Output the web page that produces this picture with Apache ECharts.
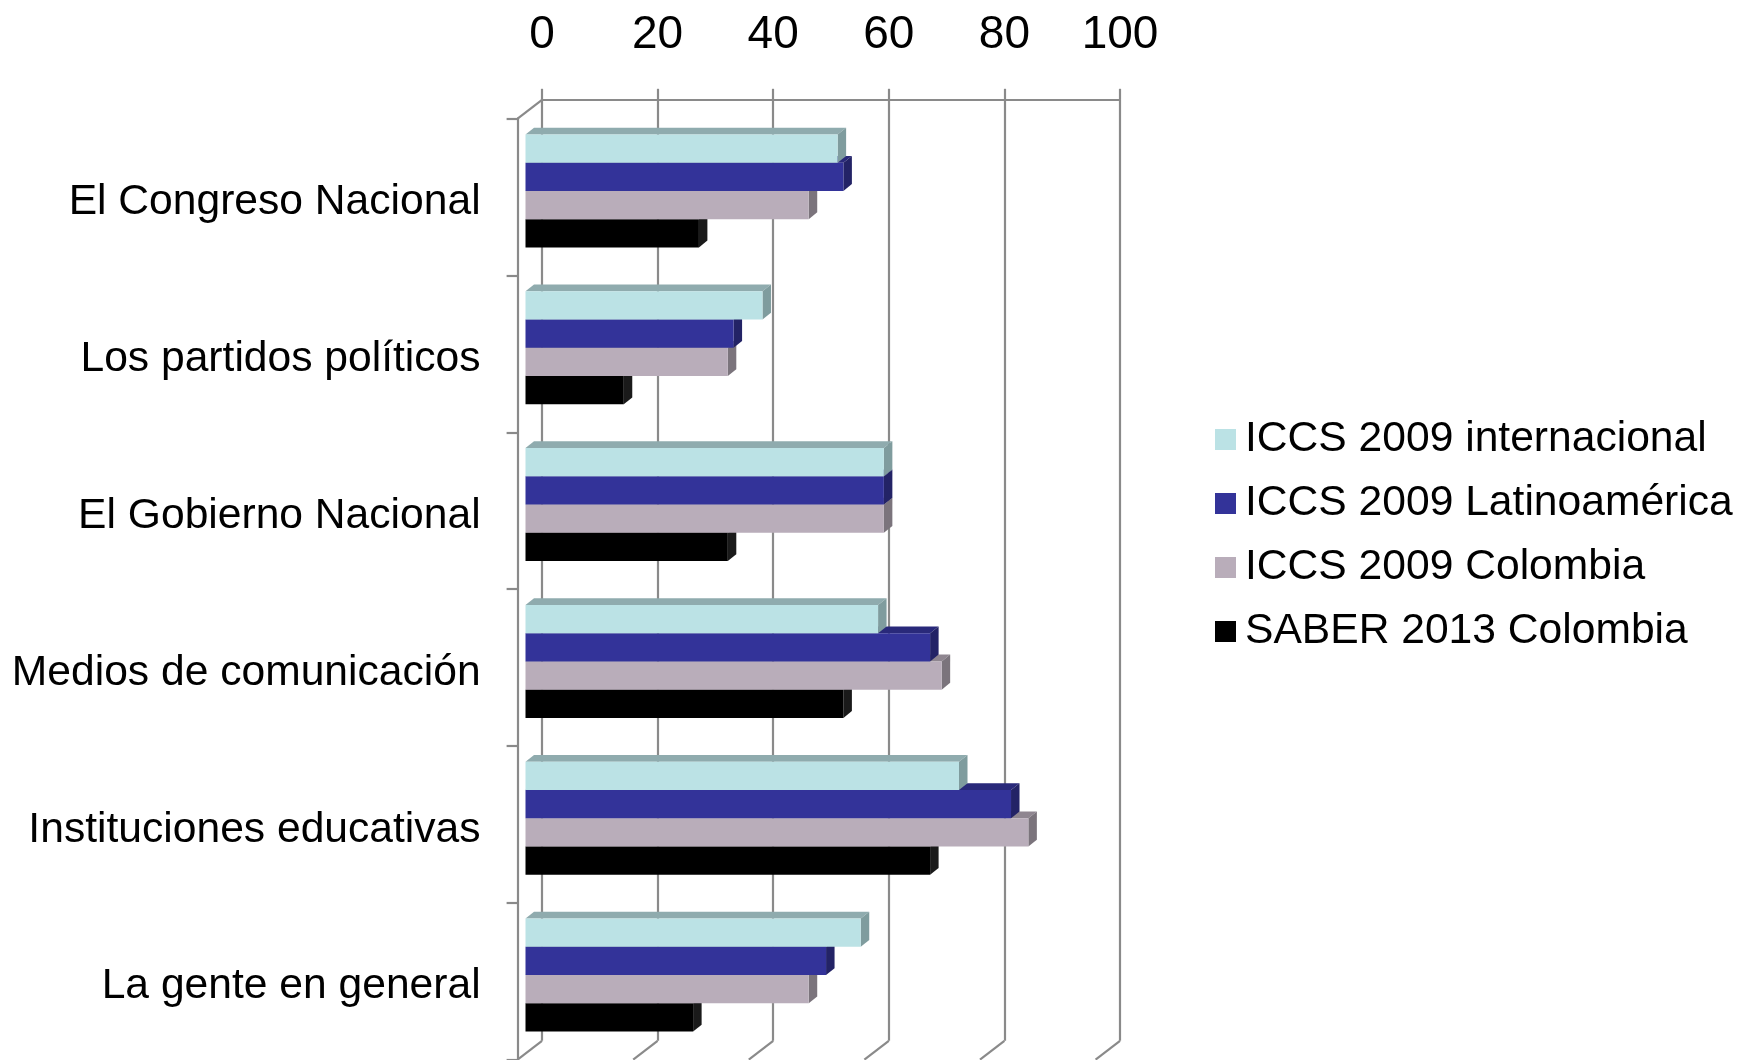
<!DOCTYPE html>
<html>
<head>
<meta charset="utf-8">
<title>Confianza en instituciones</title>
<script src="https://cdn.jsdelivr.net/npm/echarts@6/dist/echarts.min.js"></script>
<style>
  html, body { margin: 0; padding: 0; background: #fff; }
  #chart { width: 1738px; height: 1060px; }
</style>
</head>
<body>
<div id="chart"></div>
<script>
  // datos
  var categories = ['El Congreso Nacional', 'Los partidos políticos', 'El Gobierno Nacional',
    'Medios de comunicación', 'Instituciones educativas', 'La gente en general'];
  var seriesNames = ['ICCS 2009 internacional', 'ICCS 2009 Latinoamérica', 'ICCS 2009 Colombia', 'SABER 2013 Colombia'];
  var iccsInternacional = [54, 41, 62, 61, 75, 58];
  var iccsLatinoamerica = [55, 36, 62, 70, 84, 52];
  var iccsColombia = [49, 35, 62, 72, 87, 49];
  var saberColombia = [30, 17, 35, 55, 70, 29];
  var xTicks = [0, 20, 40, 60, 80, 100];

  var seriesValues = [iccsInternacional, iccsLatinoamerica, iccsColombia, saberColombia];

  // colores: cara frontal, superior y lateral
  var palette = [
    {front: '#bbe2e5', top: '#8fabae', side: '#7f9c9e'},
    {front: '#333399', top: '#29297a', side: '#232366'},
    {front: '#b9adba', top: '#8f8690', side: '#7b747c'},
    {front: '#000000', top: '#111111', side: '#1a1a1a'}
  ];

  var FONT = "'Liberation Sans', Arial, sans-serif";
  var GRID_COLOR = '#8a8a8a';

  // geometria del marco 3D
  var frontLeft = 517.6, frontTop = 118.6;
  var plotW = 578, plotH = 941;
  var depthX = 24.4, depthY = 18.8;          // desplazamiento pared de fondo
  var barShiftX = 7.9, barShiftY = 6.1;      // plano frontal de las barras
  var barDX = 8.5, barDY = 6.8;              // profundidad de cada barra
  var barRatio = 0.18;

  var backLeft = frontLeft + depthX, backTop = frontTop - depthY;

  var myChart = echarts.init(document.getElementById('chart'));

  function makeRender (idx) {
    return function (params, api) {
      var cat = api.value(1);
      var start = api.coord([0, cat]);
      var end = api.coord([api.value(0), cat]);
      var band = api.size([0, 1])[1];
      var h = band * barRatio;
      var x0 = start[0], x1 = end[0];
      var y0 = start[1] + (idx - 2) * h, y1 = y0 + h;
      var c = palette[idx];
      return {
        type: 'group',
        children: [
          {type: 'polygon', shape: {points: [[x0, y0], [x1, y0], [x1 + barDX, y0 - barDY], [x0 + barDX, y0 - barDY]]},
            style: {fill: c.top}},
          {type: 'polygon', shape: {points: [[x1, y0], [x1 + barDX, y0 - barDY], [x1 + barDX, y1 - barDY], [x1, y1]]},
            style: {fill: c.side}},
          {type: 'rect', shape: {x: x0, y: y0, width: x1 - x0, height: h},
            style: {fill: c.front}}
        ]
      };
    };
  }

  var series = seriesValues.map(function (vals, idx) {
    return {
      name: seriesNames[idx],
      type: 'custom',
      xAxisIndex: 1,
      yAxisIndex: 1,
      z: 10 - idx,
      itemStyle: {color: palette[idx].front},
      renderItem: makeRender(idx),
      encode: {x: 0, y: 1},
      data: vals.map(function (v, i) { return [v, i]; })
    };
  });

  // lineas diagonales del suelo y la pared izquierda
  var graphics = [{
    type: 'line',
    shape: {x1: frontLeft, y1: frontTop, x2: backLeft, y2: backTop},
    style: {stroke: GRID_COLOR, lineWidth: 2.2}
  }];
  xTicks.forEach(function (t) {
    var off = t / 100 * plotW;
    graphics.push({
      type: 'line',
      shape: {x1: backLeft + off, y1: backTop + plotH, x2: frontLeft + off, y2: frontTop + plotH},
      style: {stroke: GRID_COLOR, lineWidth: 2.2}
    });
  });

  var lineStyle = {color: GRID_COLOR, width: 2.2};

  var opt = {
    animation: false,
    textStyle: {fontFamily: FONT},
    grid: [
      {left: backLeft, top: backTop, width: plotW, height: plotH},
      {left: frontLeft + barShiftX, top: frontTop - barShiftY, width: plotW, height: plotH},
      {left: frontLeft, top: frontTop, width: plotW, height: plotH}
    ],
    xAxis: [
      {
        gridIndex: 0, type: 'value', position: 'top', min: 0, max: 100, interval: 20,
        axisLine: {show: true, lineStyle: lineStyle},
        axisTick: {show: true, length: 11, lineStyle: lineStyle},
        splitLine: {show: true, lineStyle: lineStyle},
        axisLabel: {fontSize: 46, color: '#000', margin: 41, fontFamily: FONT}
      },
      {gridIndex: 1, type: 'value', min: 0, max: 100, show: false},
      {gridIndex: 2, type: 'value', min: 0, max: 100, show: false}
    ],
    yAxis: [
      {gridIndex: 0, type: 'category', data: categories, inverse: true, show: false},
      {gridIndex: 1, type: 'category', data: categories, inverse: true, show: false},
      {
        gridIndex: 2, type: 'category', data: categories, inverse: true,
        axisLine: {show: true, lineStyle: lineStyle},
        axisTick: {show: true, length: 11, lineStyle: lineStyle},
        splitLine: {show: false},
        // texto un poco por debajo del centro de la banda
        axisLabel: {fontSize: 42.6, color: '#000', margin: 37, fontFamily: FONT,
          verticalAlign: 'top', lineHeight: 11}
      }
    ],
    legend: {
      orient: 'vertical',
      left: 1215,
      top: 418,
      padding: 0,
      itemWidth: 21,
      itemHeight: 21,
      itemGap: 21,
      icon: 'rect',
      data: seriesNames,
      textStyle: {fontSize: 42.6, lineHeight: 42.6, color: '#000', fontFamily: FONT, padding: [0, 0, 0, 4]}
    },
    graphic: graphics,
    series: series
  };

  myChart.setOption(opt);
</script>
</body>
</html>
